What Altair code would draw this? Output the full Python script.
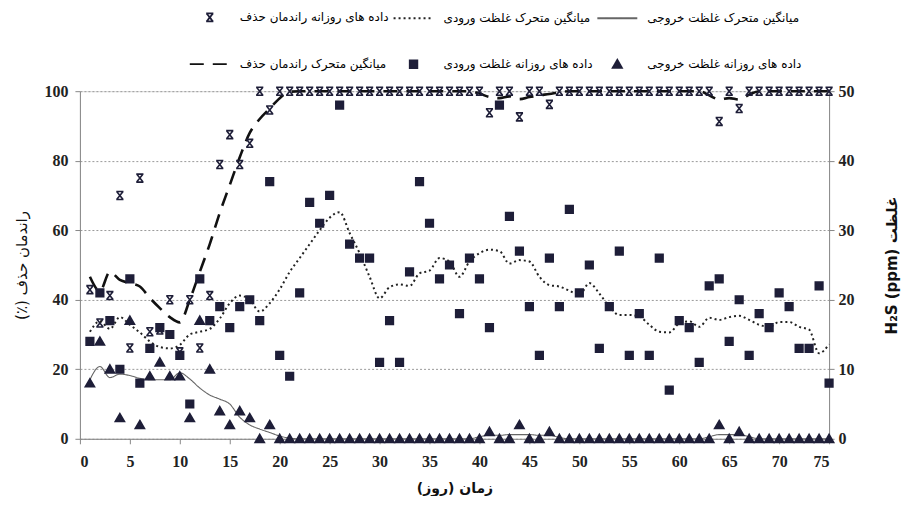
import altair as alt
import pandas as pd

# ---------------- data ----------------
days = list(range(1, 76))

inlet_daily = [14, 21, 17, 10, 23, 8, 13, 16, 15, 12, 5, 23, 17, 19, 16, 19, 20, 17, 37, 12,
               9, 21, 34, 31, 35, 48, 28, 26, 26, 11, 17, 11, 24, 37, 31, 23, 25, 18, 26, 23,
               16, 48, 32, 27, 19, 12, 26, 19, 33, 21, 25, 13, 19, 27, 12, 18, 12, 26, 7, 17,
               16, 11, 22, 23, 14, 20, 12, 18, 16, 21, 19, 13, 13, 22, 8]

outlet_daily = [8, 14, 10, 3, 17, 2, 9, 11, 9, 9, 3, 17, 10, 4, 2, 4, 3, 0, 2, 0,
                0, 0, 0, 0, 0, 0, 0, 0, 0, 0, 0, 0, 0, 0, 0, 0, 0, 0, 0, 0,
                1, 0, 0, 2, 0, 0, 1, 0, 0, 0, 0, 0, 0, 0, 0, 0, 0, 0, 0, 0,
                0, 0, 0, 2, 0, 1, 0, 0, 0, 0, 0, 0, 0, 0, 0]

removal_daily = [42.9, 33.3, 41.2, 70.0, 26.1, 75.0, 30.8, 31.3, 40.0, 25.0, 40.0, 26.1, 41.2, 78.9, 87.5,
                 78.9, 85.0, 100, 94.6, 100, 100, 100, 100, 100, 100, 100, 100, 100, 100, 100,
                 100, 100, 100, 100, 100, 100, 100, 100, 100, 100, 93.8, 100, 100, 92.6, 100,
                 100, 96.2, 100, 100, 100, 100, 100, 100, 100, 100, 100, 100, 100, 100, 100,
                 100, 100, 100, 91.3, 100, 95.0, 100, 100, 100, 100, 100, 100, 100, 100, 100]

inlet_ma = [15.4, 16.9, 15.8, 17.5, 16.4, 15.3, 14.0, 13.2, 13.0, 13.5, 15.0, 15.4, 15.8, 17.3, 19.5,
            20.6, 20.0, 18.3, 19.5, 21.5, 24.0, 26.0, 28.0, 30.0, 31.8, 32.6, 29.6, 26.7, 23.3, 20.2,
            21.8, 22.2, 22.0, 23.8, 24.2, 26.0, 25.5, 23.3, 25.5, 26.7, 27.2, 27.0, 25.2, 25.7, 25.5,
            23.3, 22.1, 21.9, 21.3, 20.7, 22.4, 20.9, 19.0, 17.8, 17.8, 17.6, 16.4, 15.4, 15.3, 16.6,
            16.9, 16.1, 17.4, 17.1, 17.5, 17.7, 17.1, 16.4, 16.1, 16.8, 16.8, 16.1, 15.7, 12.3, 13.6]

outlet_ma = [8.5, 10.4, 8.8, 9.3, 9.1, 8.7, 8.5, 8.5, 8.5, 9.5, 8.6, 7.3, 6.3, 5.7, 5.0,
             3.1, 2.0, 1.4, 0.9, 0.4, 0.1, 0, 0, 0, 0, 0, 0, 0, 0, 0,
             0, 0, 0, 0, 0, 0, 0, 0, 0, 0.3, 0.5, 0.5, 0.6, 0.6, 0.6,
             0.5, 0.5, 0.2, 0, 0, 0, 0, 0, 0, 0, 0, 0, 0, 0, 0,
             0, 0, 0.3, 0.6, 0.6, 0.6, 0.3, 0, 0, 0, 0, 0, 0, 0, 0]

removal_ma = [46.6, 42.5, 48.0, 45.7, 44.8, 43.8, 40.5, 37.6, 35.0, 33.5, 40.0, 48.0, 56.0, 65.0, 73.0,
              81.0, 88.0, 92.0, 95.0, 98.0, 99.8, 100, 100, 100, 100, 100, 100, 100, 100, 100,
              100, 100, 100, 100, 100, 100, 100, 100, 100, 99.3, 98.3, 98.0, 98.5, 97.7, 98.3,
              98.8, 99.2, 99.7, 100, 100, 100, 100, 100, 100, 100, 100, 100, 100, 100, 100,
              100, 100, 98.8, 97.6, 98.0, 97.6, 99.0, 100, 100, 100, 100, 100, 100, 100, 100]

S_REM_D = "داده های روزانه راندمان حذف"
S_IN_MA = "میانگین متحرک غلظت ورودی"
S_OUT_MA = "میانگین متحرک غلظت خروجی"
S_REM_MA = "میانگین متحرک راندمان حذف"
S_IN_D = "داده های روزانه غلظت ورودی"
S_OUT_D = "داده های روزانه غلظت خروجی"
series_order = [S_REM_D, S_IN_MA, S_OUT_MA, S_REM_MA, S_IN_D, S_OUT_D]

x_ticks = list(range(0, 80, 5))
left_ticks = [0, 20, 40, 60, 80, 100]
right_ticks = [0, 10, 20, 30, 40, 50]

X_TITLE = "\u202bزمان (روز)\u202c"
L_TITLE = "\u202bراندمان حذف (٪)\u202c"
R_TITLE = "\u202bغلظت H\u2082S (ppm)\u202c"

# ---------------- tables ----------------
df_rem_pts = pd.DataFrame({"day": days, "value": removal_daily, "series": S_REM_D})
df_rem_ma = pd.DataFrame({"day": days, "value": removal_ma, "series": S_REM_MA})
df_conc_pts = pd.concat([
    pd.DataFrame({"day": days, "value": inlet_daily, "series": S_IN_D}),
    pd.DataFrame({"day": days, "value": outlet_daily, "series": S_OUT_D}),
])
df_in_ma = pd.DataFrame({"day": days, "value": inlet_ma, "series": S_IN_MA})
df_out_ma = pd.DataFrame({"day": days, "value": outlet_ma, "series": S_OUT_MA})

DARK = "#1e1e38"
XPATH = "M-0.8,-1L0.8,1M0.8,-1L-0.8,1M-0.9,-1H0.9M-0.9,1H0.9"
LINE = "M-5,0H5"
SQ = "M-0.95,-0.95H0.95V0.95H-0.95Z"
TRI = "M0,-1.1L1.15,0.9H-1.15Z"

legend = alt.Legend(
    title=None, orient="none", legendX=124, legendY=-80, columns=3, direction="horizontal",
    labelFont="DejaVu Sans", labelFontSize=12, labelColor="#000", rowPadding=31,
    columnPadding=0, labelOffset=24, labelLimit=400, symbolSize=64,
    symbolStrokeWidth=1.8, symbolFillColor=DARK,
)

shape_scale = alt.Scale(domain=series_order, range=[XPATH, LINE, LINE, LINE, SQ, TRI])
dash_scale = alt.Scale(domain=series_order,
                       range=[[1, 0], [2, 3], [1, 0], [14, 9], [1, 0], [1, 0]])
stroke_scale = alt.Scale(domain=series_order,
                         range=[DARK, "#222222", "#666666", "#111111", DARK, DARK])

x_enc = alt.X("day:Q", scale=alt.Scale(domain=[0, 75], nice=False),
              axis=alt.Axis(values=x_ticks, title=X_TITLE, grid=False, labelFont="Liberation Serif",
                            labelFontWeight="bold", labelFontSize=16, labelColor="#222",
                            labelPadding=10, tickSize=5, tickColor="#888", domainColor="#888",
                            titleFont="DejaVu Sans", titleFontWeight="bold", titleFontSize=14,
                            titleColor="#111", titlePadding=12))

y_left = alt.Y("value:Q", scale=alt.Scale(domain=[0, 100], nice=False),
               axis=alt.Axis(values=left_ticks, title=L_TITLE, grid=True, gridDash=[2, 2],
                             gridColor="#9a9a9a", labelFont="Liberation Serif", labelFontWeight="bold",
                             labelFontSize=16, labelColor="#222", labelPadding=7, tickSize=5,
                             tickColor="#888", domainColor="#888", titleFont="DejaVu Sans",
                             titleFontWeight="normal", titleFontSize=15, titleColor="#111",
                             titlePadding=14))

y_right = alt.Y("value:Q", scale=alt.Scale(domain=[0, 50], nice=False),
                axis=alt.Axis(values=right_ticks, title=R_TITLE, orient="right", grid=False,
                              labelFont="Liberation Serif", labelFontWeight="bold", labelFontSize=16,
                              labelColor="#222", labelPadding=4, tickSize=5, tickColor="#888",
                              domainColor="#888", titleFont="DejaVu Sans", titleFontWeight="bold",
                              titleFontSize=15, titleColor="#111", titlePadding=45, titleAngle=270))

pts_common = dict(filled=False, fill=DARK, strokeWidth=1.6, opacity=1, fillOpacity=1, size=64)

def stroke_enc():
    return alt.Stroke("series:N", scale=stroke_scale, legend=legend)

rem_pts = alt.Chart(df_rem_pts).mark_point(**pts_common).encode(
    x=x_enc, y=y_left,
    shape=alt.Shape("series:N", scale=shape_scale, legend=legend),
    stroke=stroke_enc(),
)
rem_line = alt.Chart(df_rem_ma).mark_line(strokeWidth=2.6, interpolate="monotone").encode(
    x=x_enc, y=y_left,
    strokeDash=alt.StrokeDash("series:N", scale=dash_scale, legend=legend),
    stroke=stroke_enc(),
)
conc_pts = alt.Chart(df_conc_pts).mark_point(**pts_common).encode(
    x=x_enc, y=y_right,
    shape=alt.Shape("series:N", scale=shape_scale, legend=legend),
    stroke=stroke_enc(),
)
in_line = alt.Chart(df_in_ma).mark_line(strokeWidth=2, interpolate="monotone").encode(
    x=x_enc, y=y_right,
    strokeDash=alt.StrokeDash("series:N", scale=dash_scale, legend=legend),
    stroke=stroke_enc(),
)
out_line = alt.Chart(df_out_ma).mark_line(strokeWidth=1.1, interpolate="monotone").encode(
    x=x_enc, y=y_right,
    strokeDash=alt.StrokeDash("series:N", scale=dash_scale, legend=legend),
    stroke=stroke_enc(),
)

left = alt.layer(rem_line, rem_pts)
right = alt.layer(out_line, in_line, conc_pts)

chart = alt.layer(left, right).resolve_scale(y="independent").properties(
    width=750, height=348,
    padding={"left": 7, "top": 3, "right": 2, "bottom": 0},
).configure_view(stroke=None).configure(background="white")

chart.save("out.html", embed_options={"renderer": "svg", "actions": False})
